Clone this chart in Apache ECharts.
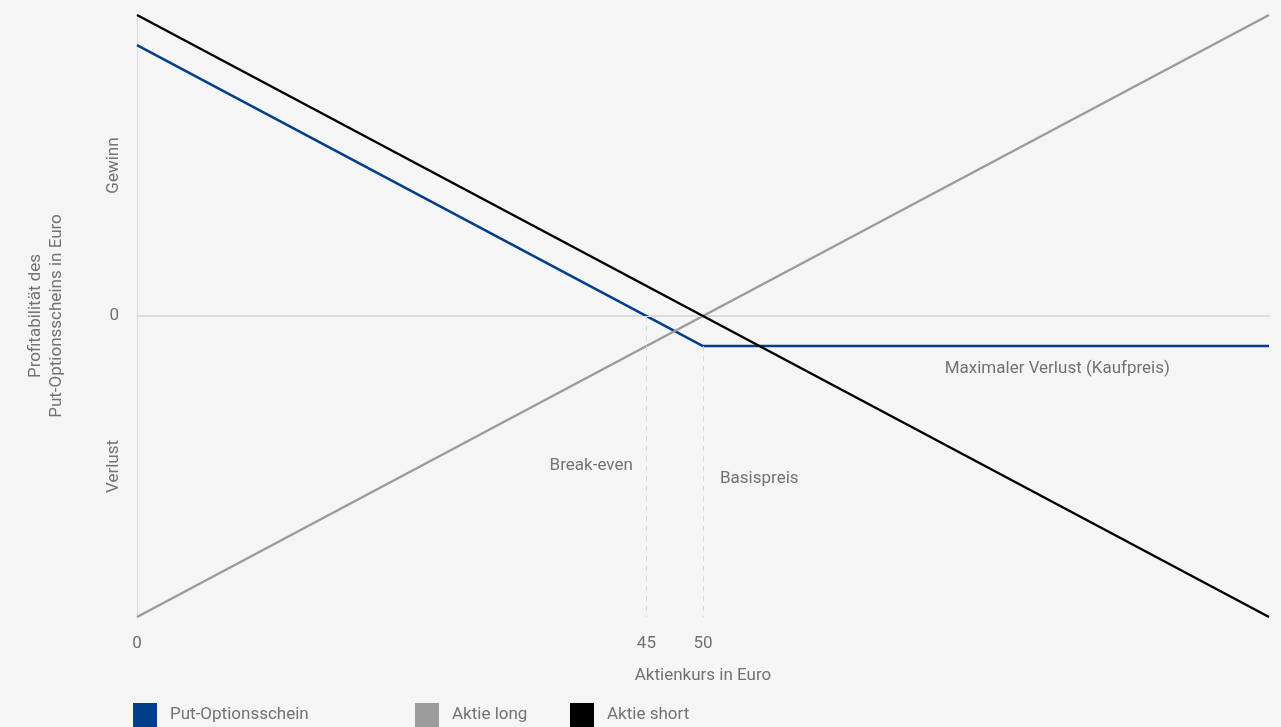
<!DOCTYPE html>
<html>
<head>
<meta charset="utf-8">
<script src="https://cdn.jsdelivr.net/npm/echarts@6/dist/echarts.min.js"></script>
<style>
html,body{margin:0;padding:0;background:#f5f5f5;}
#c{width:1281px;height:727px;}
</style>
</head>
<body>
<div id="c"></div>
<script>
// Data
const seriesNames = ['Put-Optionsschein', 'Aktie long', 'Aktie short'];
const putX = [0, 50, 100];
const putY = [45, -5, -5];
const longX = [0, 100];
const longY = [-50, 50];
const shortX = [0, 100];
const shortY = [50, -50];
const xTickLabels = [0, 45, 50];
const breakEven = 45;
const strike = 50;
const maxLoss = -5;
const yCategoryLabels = { '25': 'Gewinn', '-25': 'Verlust' };

const FONT = 'Roboto';
const FS = 17;
const TXT = '#727272';
const colors = ['#003f87', '#9b9b9b', '#000000'];

function pairs(xs, ys) { return xs.map((x, i) => [x, ys[i]]); }

const chart = echarts.init(document.getElementById('c'), null, { renderer: 'canvas' });
const legendBase = {
  orient: 'horizontal', top: 698, itemWidth: 24, itemHeight: 24, icon: 'rect',
  selectedMode: false,
  textStyle: { fontFamily: FONT, fontSize: FS, color: TXT, padding: [0, 0, 0, 8] }
};
const option = {
  backgroundColor: '#f5f5f5',
  animation: false,
  color: colors,
  textStyle: { fontFamily: FONT },
  grid: { left: 137, right: 12, top: 15, bottom: 110 },
  legend: [
    Object.assign({}, legendBase, { left: 128, data: [seriesNames[0]] }),
    Object.assign({}, legendBase, { left: 410, data: [seriesNames[1]] }),
    Object.assign({}, legendBase, { left: 565, data: [seriesNames[2]] })
  ],
  xAxis: {
    type: 'value', min: 0, max: 100, interval: 5,
    name: 'Aktienkurs in Euro', nameLocation: 'middle', nameGap: 50,
    nameTextStyle: { fontFamily: FONT, fontSize: FS, color: TXT },
    axisLine: { show: true, lineStyle: { color: '#dcdcdc', width: 2 } },
    axisTick: { show: false },
    splitLine: { show: false },
    axisLabel: {
      margin: 18, fontFamily: FONT, fontSize: FS, color: TXT,
      formatter: v => xTickLabels.indexOf(v) >= 0 ? String(v) : ''
    }
  },
  yAxis: [
    {
      type: 'value', min: -50, max: 50, interval: 25,
      name: 'Profitabilität des\nPut-Optionsscheins in Euro',
      nameLocation: 'middle', nameGap: 70, nameRotate: 90,
      nameTextStyle: { fontFamily: FONT, fontSize: FS, color: TXT, lineHeight: 21 },
      axisLine: { show: true, lineStyle: { color: '#dcdcdc', width: 1 } },
      axisTick: { show: false },
      splitLine: { show: false },
      axisLabel: {
        margin: 18, fontFamily: FONT, fontSize: FS, color: TXT,
        formatter: v => v === 0 ? '0' : ''
      }
    },
    {
      type: 'value', min: -50, max: 50, interval: 25, position: 'left',
      axisLine: { show: false }, axisTick: { show: false }, splitLine: { show: false },
      axisLabel: {
        rotate: 90, margin: 15, fontFamily: FONT, fontSize: FS, color: TXT,
        formatter: v => yCategoryLabels[String(v)] || ''
      }
    }
  ],
  series: [
    {
      name: seriesNames[0], type: 'line', data: pairs(putX, putY),
      symbol: 'none', lineStyle: { width: 2.5, color: colors[0] }, z: 3,
      markLine: {
        silent: true, symbol: 'none',
        label: { show: false },
        lineStyle: { type: [5, 5], color: '#d6d6d6', width: 1 },
        data: [
          [{ coord: [breakEven, 0] }, { coord: [breakEven, -50] }],
          [{ coord: [strike, maxLoss] }, { coord: [strike, -50] }],
          [{ coord: [0, 0], lineStyle: { type: 'solid', color: '#dcdcdc', width: 1 } },
           { coord: [100, 0] }]
        ]
      },
      markPoint: {
        silent: true, symbol: 'circle', symbolSize: 0,
        label: { show: true, fontFamily: FONT, fontSize: FS, color: TXT },
        data: [
          { coord: [43.8, -24.8], value: 'Break-even',
            label: { align: 'right', verticalAlign: 'middle', formatter: 'Break-even' } },
          { coord: [51.5, -27.1], value: 'Basispreis',
            label: { align: 'left', verticalAlign: 'middle', formatter: 'Basispreis' } },
          { coord: [81.3, -8.8], value: 'Max',
            label: { align: 'center', verticalAlign: 'middle', formatter: 'Maximaler Verlust (Kaufpreis)' } }
        ]
      }
    },
    {
      name: seriesNames[1], type: 'line', data: pairs(longX, longY),
      symbol: 'none', lineStyle: { width: 2.5, color: colors[1] }, z: 4
    },
    {
      name: seriesNames[2], type: 'line', data: pairs(shortX, shortY),
      symbol: 'none', lineStyle: { width: 2.5, color: colors[2] }, z: 5
    }
  ]
};
chart.setOption(option);
</script>
</body>
</html>
